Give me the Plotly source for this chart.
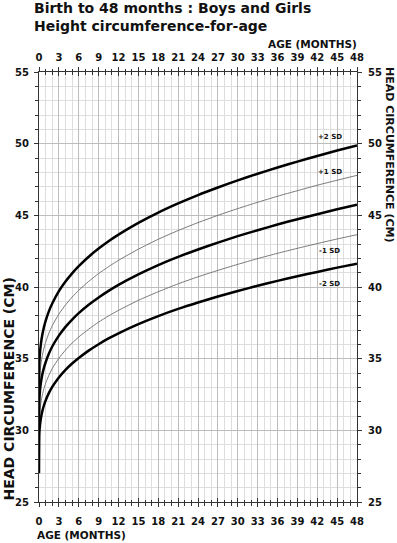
import numpy as np
import plotly.graph_objects as go

# ---------------- data ----------------
ages = [0, 0.05, 0.15, 0.3, 0.5, 0.75, 1, 1.5, 2, 3, 4, 5, 6, 7.5, 9, 10.5, 12,
        15, 18, 21, 24, 27, 30, 33, 36, 39, 42, 45, 48]

sd_plus2 = [32.9, 34.67, 35.44, 36.09, 36.67, 37.21, 37.64, 38.32, 38.85, 39.71, 40.38,
            40.95, 41.45, 42.11, 42.68, 43.19, 43.65, 44.47, 45.19, 45.83, 46.41, 46.94,
            47.44, 47.90, 48.34, 48.75, 49.14, 49.52, 49.88]
sd_plus1 = [31.6, 33.32, 34.05, 34.67, 35.22, 35.73, 36.14, 36.79, 37.30, 38.11, 38.75,
            39.30, 39.77, 40.39, 40.94, 41.42, 41.86, 42.64, 43.33, 43.94, 44.49, 45.00,
            45.47, 45.91, 46.33, 46.72, 47.10, 47.45, 47.79]
median = [30.5, 32.09, 32.78, 33.36, 33.89, 34.37, 34.75, 35.36, 35.85, 36.61, 37.22,
          37.73, 38.18, 38.76, 39.27, 39.73, 40.15, 40.88, 41.53, 42.10, 42.62, 43.10,
          43.55, 43.96, 44.36, 44.73, 45.08, 45.42, 45.74]
sd_minus1 = [29.3, 30.76, 31.41, 31.96, 32.46, 32.92, 33.28, 33.85, 34.31, 35.03, 35.60,
             36.09, 36.51, 37.06, 37.55, 37.98, 38.37, 39.07, 39.67, 40.22, 40.71, 41.16,
             41.58, 41.98, 42.35, 42.70, 43.03, 43.35, 43.65]
sd_minus2 = [27.0, 29.76, 30.36, 30.87, 31.33, 31.75, 32.08, 32.61, 33.03, 33.69, 34.22,
             34.66, 35.05, 35.56, 36.01, 36.41, 36.77, 37.41, 37.97, 38.47, 38.92, 39.34,
             39.72, 40.09, 40.43, 40.75, 41.05, 41.35, 41.63]

sd_labels = ["+2 SD", "+1 SD", "-1 SD", "-2 SD"]

# ---------------- styling ----------------
FONT = "DejaVu Sans"
INK = "#111111"
AXIS = "#333333"
GRID_MAJOR = "#bdbdbd"
GRID_MINOR = "#dedede"

fig = go.Figure()

thin = [sd_plus1, sd_minus1]
thick = [sd_plus2, median, sd_minus2]
for vals in thin:
    fig.add_trace(go.Scatter(x=ages, y=vals, mode="lines",
                             line=dict(color="#6a6a6a", width=0.9, shape="spline", smoothing=0.6),
                             hoverinfo="skip", showlegend=False))
for vals in thick:
    fig.add_trace(go.Scatter(x=ages, y=vals, mode="lines",
                             line=dict(color="#000000", width=2.5, shape="spline", smoothing=0.6),
                             hoverinfo="skip", showlegend=False))

# helper traces so overlay axes are drawn
for xa, ya in [("x2", "y"), ("x3", "y"), ("x4", "y"), ("x", "y2")]:
    fig.add_trace(go.Scatter(x=[None], y=[None], xaxis=xa, yaxis=ya,
                             hoverinfo="skip", showlegend=False))

tickfont = dict(family=FONT, size=10, color=INK, weight="bold")

base_x = dict(range=[0, 48], tickmode="linear", tick0=0, dtick=3,
              zeroline=False, fixedrange=True)

fig.update_layout(
    width=397, height=543, autosize=False,
    margin=dict(l=39, r=40, t=72, b=41, pad=0),
    paper_bgcolor="white", plot_bgcolor="white",
    showlegend=False,
    xaxis=dict(**base_x, side="bottom", ticks="outside", ticklen=4, tickcolor=AXIS,
               showline=True, linecolor=AXIS, linewidth=1,
               showgrid=True, gridcolor=GRID_MAJOR, gridwidth=1,
               minor=dict(tick0=0, dtick=1, ticks="outside", ticklen=2.5, tickcolor=AXIS,
                          showgrid=True, gridcolor=GRID_MINOR, gridwidth=1),
               tickfont=tickfont, ticklabelstandoff=6),
    xaxis2=dict(**base_x, overlaying="x", side="top", anchor="y",
                ticks="outside", ticklen=4, tickcolor=AXIS,
                showline=True, linecolor=AXIS, linewidth=1, showgrid=False,
                minor=dict(tick0=0, dtick=1, ticks="outside", ticklen=2.5, tickcolor=AXIS,
                           showgrid=False),
                tickfont=tickfont, ticklabelstandoff=2),
    xaxis3=dict(**base_x, overlaying="x", side="bottom", anchor="y",
                ticks="inside", ticklen=4, tickcolor=AXIS, showline=False,
                showgrid=False, showticklabels=False,
                minor=dict(tick0=0, dtick=1, ticks="inside", ticklen=2.5, tickcolor=AXIS,
                           showgrid=False)),
    xaxis4=dict(**base_x, overlaying="x", side="top", anchor="y",
                ticks="inside", ticklen=4, tickcolor=AXIS, showline=False,
                showgrid=False, showticklabels=False,
                minor=dict(tick0=0, dtick=1, ticks="inside", ticklen=2.5, tickcolor=AXIS,
                           showgrid=False)),
    yaxis=dict(range=[25, 55], tickmode="linear", tick0=25, dtick=5, side="left",
               ticks="outside", ticklen=4, tickcolor=AXIS,
               showline=True, linecolor=AXIS, linewidth=1, zeroline=False,
               showgrid=True, gridcolor=GRID_MAJOR, gridwidth=1,
               minor=dict(tick0=25, dtick=1, ticks="outside", ticklen=3, tickcolor=AXIS,
                          showgrid=True, gridcolor=GRID_MINOR, gridwidth=1),
               tickfont=tickfont, ticklabelstandoff=3, fixedrange=True),
    yaxis2=dict(range=[25, 55], tickmode="linear", tick0=25, dtick=5, side="right",
                overlaying="y", anchor="x",
                ticks="outside", ticklen=4, tickcolor=AXIS,
                showline=True, linecolor=AXIS, linewidth=1, zeroline=False,
                showgrid=False,
                minor=dict(tick0=25, dtick=1, ticks="outside", ticklen=3, tickcolor=AXIS,
                           showgrid=False),
                tickfont=tickfont, ticklabelstandoff=4, fixedrange=True),
)

# ---------------- text ----------------
def px_x(p):
    return (p - 39) / 318.0

def px_y(p):
    return (502 - p) / 430.0

ann = []
ann.append(dict(text="Birth to 48 months : Boys and Girls", x=px_x(32), y=px_y(8),
                xref="paper", yref="paper", xanchor="left", yanchor="middle",
                showarrow=False, font=dict(family=FONT, size=14, color=INK, weight="bold")))
ann.append(dict(text="Height circumference-for-age", x=px_x(32), y=px_y(26),
                xref="paper", yref="paper", xanchor="left", yanchor="middle",
                showarrow=False, font=dict(family=FONT, size=14, color=INK, weight="bold")))
ann.append(dict(text="AGE (MONTHS)", x=px_x(359), y=px_y(44),
                xref="paper", yref="paper", xanchor="right", yanchor="middle",
                showarrow=False, font=dict(family=FONT, size=10.5, color=INK, weight="bold")))
ann.append(dict(text="AGE (MONTHS)", x=px_x(35), y=px_y(535),
                xref="paper", yref="paper", xanchor="left", yanchor="middle",
                showarrow=False, font=dict(family=FONT, size=10.5, color=INK, weight="bold")))
ann.append(dict(text="HEAD CIRCUMFERENCE (CM)", x=px_x(8), y=px_y(503),
                xref="paper", yref="paper", xanchor="center", yanchor="bottom",
                textangle=-90, showarrow=False,
                font=dict(family=FONT, size=14, color=INK, weight="bold")))
ann.append(dict(text="HEAD CIRCUMFERENCE (CM)", x=px_x(390), y=px_y(65),
                xref="paper", yref="paper", xanchor="center", yanchor="top",
                textangle=90, showarrow=False,
                font=dict(family=FONT, size=11, color=INK, weight="bold")))

label_x = 43.9
label_series = [sd_plus2, sd_plus1, sd_minus1, sd_minus2]
label_shift = [16, 10, -10, -15]
for txt, vals, sh in zip(sd_labels, label_series, label_shift):
    yv = float(np.interp(label_x, ages, vals))
    ann.append(dict(text=txt, x=label_x, y=yv, xref="x", yref="y",
                    xanchor="center", yanchor="middle", yshift=sh,
                    showarrow=False, font=dict(family=FONT, size=7, color=INK, weight="bold")))

fig.update_layout(annotations=ann)

fig.write_html(
    "out.html",
    config={"displayModeBar": False},
    post_script="document.body.style.margin='0px';document.body.style.padding='0px';"
                "document.body.style.overflow='hidden';",
)
